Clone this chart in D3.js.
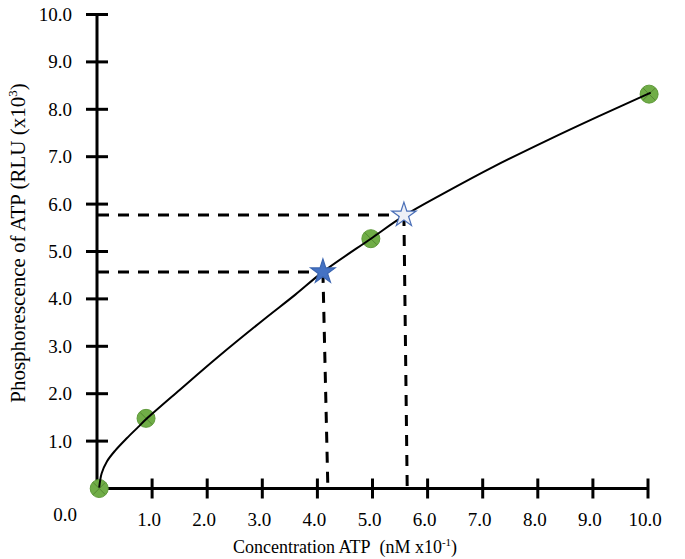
<!DOCTYPE html>
<html>
<head>
<meta charset="utf-8">
<script src="https://cdn.jsdelivr.net/npm/d3@7/dist/d3.min.js"></script>
<style>
  html, body { margin: 0; padding: 0; background: #fff; }
  svg { display: block; }
  svg text { font-family: "Liberation Serif", "Times New Roman", Times, "DejaVu Serif", serif; fill: #000; }
</style>
</head>
<body>
<script>
// ---- data ----
const xTicks = [1, 2, 3, 4, 5, 6, 7, 8, 9, 10];
const yTicks = [1, 2, 3, 4, 5, 6, 7, 8, 9, 10];
const xTickLabels = ["1.0", "2.0", "3.0", "4.0", "5.0", "6.0", "7.0", "8.0", "9.0", "10.0"];
const yTickLabels = ["1.0", "2.0", "3.0", "4.0", "5.0", "6.0", "7.0", "8.0", "9.0", "10.0"];
const originLabel = "0.0";

// measured standards (green circles)
const stdX = [0.04, 0.89, 4.97, 10.02];
const stdY = [0, 1.48, 5.27, 8.32];

// fitted curve
const curveX = [0.04, 0.085, 0.18, 0.33, 0.54, 0.75, 0.89, 1.5, 2.2, 3.0, 3.6, 4.10, 4.97, 5.57, 6.3, 7.2, 8.2, 9.1, 10.05];
const curveY = [0.02, 0.32, 0.57, 0.80, 1.06, 1.30, 1.46, 2.08, 2.78, 3.54, 4.09, 4.57, 5.27, 5.75, 6.23, 6.79, 7.36, 7.85, 8.35];

// unknown samples (stars)
const sampleX = [4.10, 5.57];
const sampleY = [4.57, 5.77];
const sampleFilled = [true, false];
const sampleFootX = [4.19, 5.63];

const xTitle = "Concentration ATP\u00a0 (nM x10";
const xTitleSup = "-1";
const yTitle = "Phosphorescence of ATP (RLU (x10";
const yTitleSup = "3";

// ---- layout ----
const W = 685, H = 559;
const FONT = "'Liberation Serif', 'Times New Roman', Times, 'DejaVu Serif', serif";
const svg = d3.select("body").append("svg").attr("width", W).attr("height", H)
  .attr("font-family", FONT);

const x = d3.scaleLinear().domain([0, 10]).range([97, 648]);
const y = d3.scaleLinear().domain([0, 10]).range([488.5, 14.5]);
const axisX = x(0);

// axes lines
svg.append("line").attr("x1", axisX).attr("x2", axisX).attr("y1", y(10)).attr("y2", y(0) + 1.5)
  .attr("stroke", "#000").attr("stroke-width", 3);
svg.append("line").attr("x1", axisX - 1.5).attr("x2", x(10)).attr("y1", y(0)).attr("y2", y(0))
  .attr("stroke", "#000").attr("stroke-width", 3);

// y ticks (crossing)
svg.selectAll(".yt").data(yTicks).enter().append("line")
  .attr("x1", axisX - 11).attr("x2", axisX + 11)
  .attr("y1", d => y(d)).attr("y2", d => y(d))
  .attr("stroke", "#000").attr("stroke-width", 3);
svg.selectAll(".ytl").data(yTicks).enter().append("text")
  .attr("x", axisX - 25).attr("y", d => y(d) + 6.5)
  .attr("text-anchor", "end").attr("font-size", 19)
  .text((d, i) => yTickLabels[i]);

// x ticks (crossing)
svg.selectAll(".xt").data(xTicks).enter().append("line")
  .attr("x1", d => x(d)).attr("x2", d => x(d))
  .attr("y1", y(0) - 10).attr("y2", y(0) + 10)
  .attr("stroke", "#000").attr("stroke-width", 3);
svg.selectAll(".xtl").data(xTicks).enter().append("text")
  .attr("x", d => x(d) - 3).attr("y", 526)
  .attr("text-anchor", "middle").attr("font-size", 19)
  .text((d, i) => xTickLabels[i]);

svg.append("text").attr("x", 77).attr("y", 521).attr("text-anchor", "end")
  .attr("font-size", 19).text(originLabel);

// axis titles
const xt = svg.append("text").attr("x", 345).attr("y", 553).attr("text-anchor", "middle")
  .attr("font-size", 18);
xt.append("tspan").text(xTitle);
xt.append("tspan").attr("dy", -7).attr("font-size", 11).text(xTitleSup);
xt.append("tspan").attr("dy", 7).text(")");

const yt = svg.append("text").attr("transform", "translate(25,243) rotate(-90)")
  .attr("text-anchor", "middle").attr("font-size", 21);
yt.append("tspan").text(yTitle);
yt.append("tspan").attr("dy", -8).attr("font-size", 13).text(yTitleSup);
yt.append("tspan").attr("dy", 8).text(")");

// standards: circles
const stdG = svg.append("g");
stdX.forEach((vx, i) => {
  const cx = x(vx), cy = y(stdY[i]);
  stdG.append("circle").attr("cx", cx).attr("cy", cy).attr("r", 9)
    .attr("fill", "#70ad47").attr("stroke", "#5f9a3a").attr("stroke-width", 1);
  const k = 6;
  stdG.append("path").attr("d", `M${cx - k},${cy - k}L${cx + k},${cy + k}M${cx - k},${cy + k}L${cx + k},${cy - k}`)
    .attr("stroke", "#4a7a2c").attr("stroke-width", 1).attr("opacity", 0.7);
});

// curve
const pts = curveX.map((vx, i) => [vx, curveY[i]]);
svg.append("path").datum(pts)
  .attr("d", d3.line().x(d => x(d[0])).y(d => y(d[1])).curve(d3.curveCatmullRom.alpha(0.5)))
  .attr("fill", "none").attr("stroke", "#000").attr("stroke-width", 2);

// dashed guides
sampleX.forEach((vx, i) => {
  svg.append("line").attr("x1", axisX + 1).attr("x2", x(vx)).attr("y1", y(sampleY[i])).attr("y2", y(sampleY[i]))
    .attr("stroke", "#000").attr("stroke-width", 3).attr("stroke-dasharray", "11,9");
  svg.append("line").attr("x1", x(vx)).attr("x2", x(sampleFootX[i])).attr("y1", y(sampleY[i])).attr("y2", y(0))
    .attr("stroke", "#000").attr("stroke-width", 3).attr("stroke-dasharray", "11,9");
});

// stars
const star = d3.symbol().type(d3.symbolStar).size(185);
sampleX.forEach((vx, i) => {
  svg.append("path").attr("d", star())
    .attr("transform", `translate(${x(vx)},${y(sampleY[i])})`)
    .attr("fill", sampleFilled[i] ? "#4472c4" : "#eef0f6")
    .attr("stroke", sampleFilled[i] ? "#3a64b0" : "#4a6fb8")
    .attr("stroke-width", 1.2);
});
</script>
</body>
</html>
